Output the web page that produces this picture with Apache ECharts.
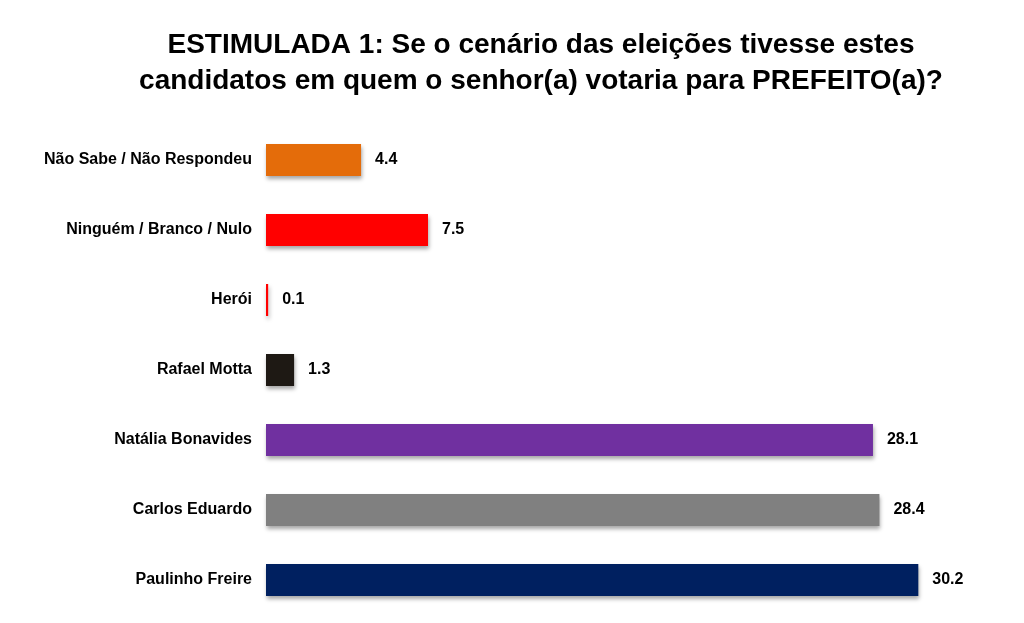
<!DOCTYPE html>
<html>
<head>
<meta charset="utf-8">
<script src="https://cdn.jsdelivr.net/npm/echarts@6/dist/echarts.min.js"></script>
<style>
  html, body { margin: 0; padding: 0; background: #fff; }
  #chart { width: 1024px; height: 623px; }
</style>
</head>
<body>
<div id="chart"></div>
<script>
// dados (de cima para baixo)
const categorias = [
    'Não Sabe / Não Respondeu',
    'Ninguém / Branco / Nulo',
    'Herói',
    'Rafael Motta',
    'Natália Bonavides',
    'Carlos Eduardo',
    'Paulinho Freire'
];
const valores = [4.4, 7.5, 0.1, 1.3, 28.1, 28.4, 30.2];
const cores = ['#E46C0A', '#FF0000', '#FF0000', '#1E1914', '#7030A0', '#808080', '#002060'];

const titulo = 'ESTIMULADA 1: Se o cenário das eleições tivesse estes\ncandidatos em quem o senhor(a) votaria para PREFEITO(a)?';

const chart = echarts.init(document.getElementById('chart'));

const option = {
    backgroundColor: '#ffffff',
    animation: false,
    title: {
        text: titulo,
        left: 536,
        textAlign: 'center',
        top: 22,
        textStyle: {
            fontFamily: 'Liberation Sans',
            fontWeight: 'bold',
            fontSize: 28,
            lineHeight: 36,
            color: '#000'
        }
    },
    grid: {
        left: 266,
        top: 125,
        width: 756,
        height: 490
    },
    xAxis: {
        type: 'value',
        min: 0,
        max: 35,
        show: false
    },
    yAxis: {
        type: 'category',
        data: categorias,
        inverse: true,
        axisLine: { show: false },
        axisTick: { show: false },
        axisLabel: {
            margin: 14,
            fontFamily: 'Liberation Sans',
            fontWeight: 'bold',
            fontSize: 16,
            color: '#000'
        }
    },
    series: [
        {
            type: 'bar',
            barWidth: 32,
            data: valores.map(function (v, i) {
                return { value: v, itemStyle: { color: cores[i] } };
            }),
            itemStyle: {
                shadowColor: 'rgba(0,0,0,0.35)',
                shadowBlur: 4,
                shadowOffsetX: 1,
                shadowOffsetY: 3
            },
            label: {
                show: true,
                position: 'right',
                distance: 14,
                fontFamily: 'Liberation Sans',
                fontWeight: 'bold',
                fontSize: 16,
                color: '#000',
                formatter: function (p) { return p.value.toFixed(1); }
            }
        }
    ]
};

chart.setOption(option);

window.addEventListener('resize', function () {
    chart.resize();
});
</script>
</body>
</html>
